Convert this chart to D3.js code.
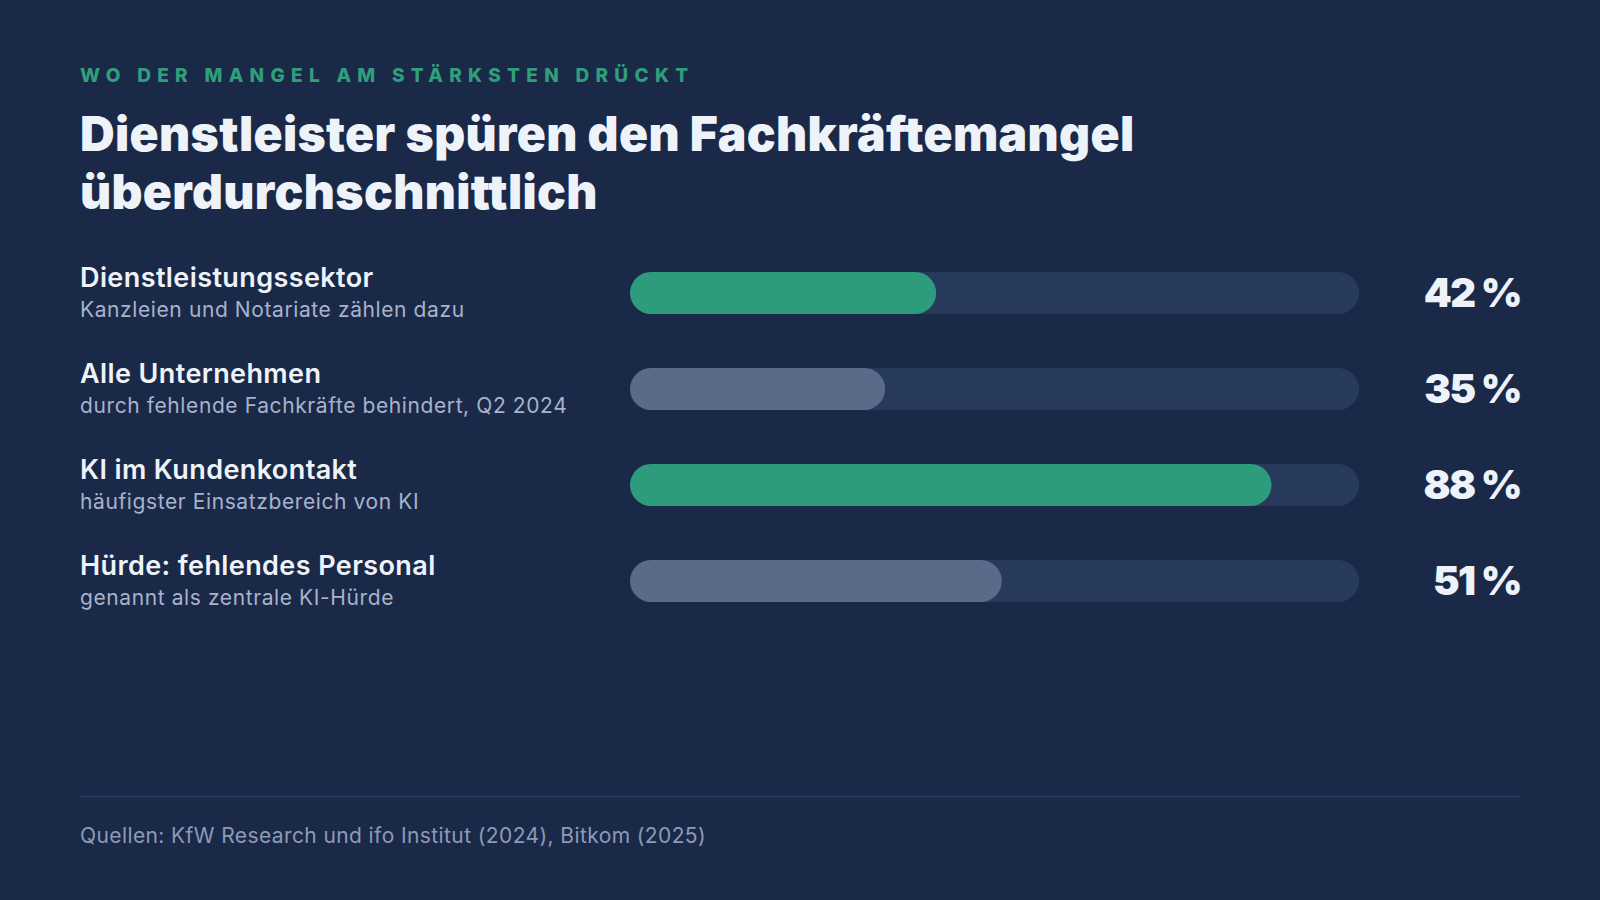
<!DOCTYPE html>
<html>
<head>
<meta charset="utf-8">
<script src="https://cdn.jsdelivr.net/npm/d3@7"></script>
<style>
  html, body { margin: 0; padding: 0; background: #1b2949; }
  svg { display: block; font-family: Inter, 'Noto Sans', sans-serif; }
</style>
</head>
<body>
<div id="chart"></div>
<script>
// chart data
var eyebrow = 'WO DER MANGEL AM STÄRKSTEN DRÜCKT'
var titleLines = ['Dienstleister spüren den Fachkräftemangel', 'überdurchschnittlich']
var labels = ['Dienstleistungssektor', 'Alle Unternehmen', 'KI im Kundenkontakt', 'Hürde: fehlendes Personal']
var notes = [
  'Kanzleien und Notariate zählen dazu',
  'durch fehlende Fachkräfte behindert, Q2 2024',
  'häufigster Einsatzbereich von KI',
  'genannt als zentrale KI-Hürde'
]
var values = [42, 35, 88, 51]
var groups = ['fokus', 'vergleich', 'fokus', 'vergleich']
var source = 'Quellen: KfW Research und ifo Institut (2024), Bitkom (2025)'

var width = 1600
var height = 900
var margin = { left: 80, right: 80 }

var svg = d3
  .select('#chart')
  .append('svg')
  .attr('width', width)
  .attr('height', height)

svg.append('rect')
  .attr('width', width)
  .attr('height', height)
  .attr('fill', '#1b2949')

// header
svg.append('text')
  .attr('x', margin.left)
  .attr('y', 82)
  .attr('fill', '#2f9e7a')
  .attr('font-size', 19)
  .attr('font-weight', 800)
  .attr('letter-spacing', 6.3)
  .text(eyebrow)

svg.selectAll('.title')
  .data(titleLines)
  .enter()
  .append('text')
  .attr('class', 'title')
  .attr('x', margin.left)
  .attr('y', (d, i) => 151 + i * 58)
  .attr('fill', '#eef3fa')
  .attr('font-size', 48)
  .attr('font-weight', 900)
  .attr('letter-spacing', 0.35)
  .text(d => d)

// scales
var xScale = d3.scaleLinear().domain([0, 100]).range([630, 1359])
var yScale = d3.scaleBand()
  .domain(labels)
  .range([272, 602])
  .paddingInner(0.5625)
var colorScale = d3.scaleOrdinal()
  .domain(['fokus', 'vergleich'])
  .range(['#2d9c7c', '#5b6a88'])

var rows = labels.map((d, i) => ({ label: d, note: notes[i], value: values[i], group: groups[i] }))
var bh = yScale.bandwidth()

var row = svg.selectAll('.row')
  .data(rows)
  .enter()
  .append('g')
  .attr('class', 'row')
  .attr('transform', d => `translate(0, ${yScale(d.label)})`)

row.append('text')
  .attr('x', margin.left)
  .attr('y', bh / 2 - 6)
  .attr('fill', '#eef3fa')
  .attr('font-size', 27)
  .attr('font-weight', 600)
  .attr('letter-spacing', 0.4)
  .text(d => d.label)

row.append('text')
  .attr('x', margin.left)
  .attr('y', bh / 2 + 24)
  .attr('fill', '#a6b3cb')
  .attr('font-size', 21)
  .attr('font-weight', 400)
  .attr('letter-spacing', 0.6)
  .text(d => d.note)

// track
row.append('rect')
  .attr('x', xScale(0))
  .attr('width', xScale(100) - xScale(0))
  .attr('height', bh)
  .attr('rx', bh / 2)
  .attr('fill', '#283a5b')

// value bar
row.append('rect')
  .attr('x', xScale(0))
  .attr('width', d => xScale(d.value) - xScale(0))
  .attr('height', bh)
  .attr('rx', bh / 2)
  .attr('fill', d => colorScale(d.group))

row.append('text')
  .attr('x', width - margin.right + 1)
  .attr('y', bh / 2 + 14)
  .attr('text-anchor', 'end')
  .attr('fill', '#eef3fa')
  .attr('font-size', 40)
  .attr('font-weight', 900)
  .attr('letter-spacing', -1.6)
  .text(d => d.value + ' %')

// footer
svg.append('line')
  .attr('x1', margin.left)
  .attr('x2', width - margin.right)
  .attr('y1', 796.5)
  .attr('y2', 796.5)
  .attr('stroke', '#31416a')
  .attr('stroke-width', 1)

svg.append('text')
  .attr('x', margin.left)
  .attr('y', 843)
  .attr('fill', '#8d9ab6')
  .attr('font-size', 21)
  .attr('letter-spacing', 0.4)
  .text(source)
</script>
</body>
</html>
